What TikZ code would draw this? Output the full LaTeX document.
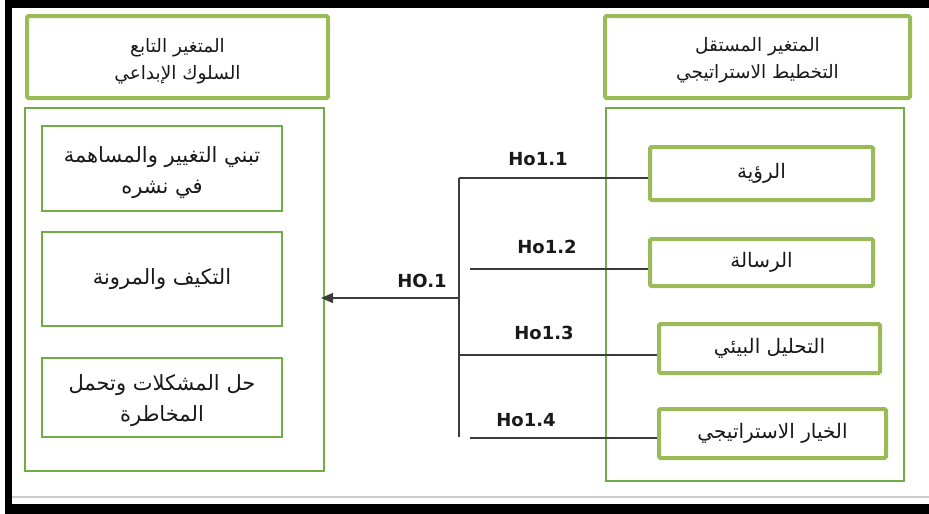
\documentclass[tikz,border=0pt]{standalone}
\usepackage{fontspec}
\setmainfont{DejaVu Sans}
\newfontfamily\arabicfont[Script=Arabic]{DejaVu Sans}
\TeXXeTstate=1
\usetikzlibrary{arrows.meta}
\definecolor{gthick}{RGB}{155,187,89}
\definecolor{gthin}{RGB}{112,173,71}
\definecolor{conn}{RGB}{60,60,60}
\definecolor{txt}{RGB}{25,25,25}
\newcommand\ARtxt[1]{\beginR #1\endR}
\begin{document}
\begin{tikzpicture}[x=1pt,y=-1pt,
  hdrbox/.style={draw=gthick, line width=4pt, rounded corners=1.5pt, inner sep=0pt},
  hdrtxt/.style={inner sep=0pt, align=center, text=txt, font=\arabicfont\fontsize{18.5}{27}\selectfont},
  bigbox/.style={draw=gthin, line width=2pt, inner sep=0pt},
  lbox/.style={draw=gthin, line width=2pt, inner sep=0pt, align=center, text=txt,
     font=\arabicfont\fontsize{21}{32}\selectfont, minimum width=240pt},
  ltxt/.style={inner sep=0pt, align=center, text=txt, font=\arabicfont\fontsize{21}{31}\selectfont},
  rbox/.style={draw=gthick, line width=4pt, rounded corners=1.5pt, inner sep=0pt, align=center, text=txt,
     font=\arabicfont\fontsize{20}{24}\selectfont},
  conline/.style={draw=conn, line width=1.3pt},
  hlabel/.style={font=\bfseries\fontsize{18}{20}\selectfont, text=txt, inner sep=0pt}
]
\useasboundingbox (0,0) rectangle (929,514);
\fill[white] (0,0) rectangle (929,514);
% outer black frame
\fill[black] (5,0) rectangle (929,8);
\fill[black] (5,0) rectangle (12,514);
\fill[black] (5,504) rectangle (929,514);
\draw[black!20, line width=1.5pt] (12,497) -- (929,497);

% headers
\node[hdrbox, minimum width=301pt, minimum height=82pt] (lhdr) at (177.5,57) {};
\node[hdrtxt] (lhdrt) at ([yshift=-4.5pt]lhdr.center)
  {\ARtxt{المتغير التابع}\\\ARtxt{السلوك الإبداعي}};
\node[hdrbox, minimum width=305pt, minimum height=82pt] (rhdr) at (757.5,57) {};
\node[hdrtxt] (rhdrt) at ([yshift=-3pt]rhdr.center)
  {\ARtxt{المتغير المستقل}\\\ARtxt{التخطيط الاستراتيجي}};

% big boxes
\node[bigbox, minimum width=299pt, minimum height=363pt] (lbig) at (174.5,289.5) {};
\node[bigbox, minimum width=298pt, minimum height=373pt] (rbig) at (755,294.5) {};

% left inner boxes
\node[lbox, minimum height=85pt] (l1) at (162,168.5) {};
\node[ltxt] (l1t) at ([yshift=-4.5pt]l1.center)
  {\ARtxt{تبني التغيير والمساهمة}\\\ARtxt{في نشره}};
\node[lbox, minimum height=94pt] (l2) at (162,279) {\ARtxt{التكيف والمرونة}};
\node[lbox, minimum height=79pt] (l3) at (162,397.5) {};
\node[ltxt] (l3t) at ([yshift=-3.5pt]l3.center)
  {\ARtxt{حل المشكلات وتحمل}\\\ARtxt{المخاطرة}};

% right inner boxes
\node[rbox, minimum width=223pt, minimum height=53pt] (r1) at (761.5,173.5) {\ARtxt{الرؤية}};
\node[rbox, minimum width=223pt, minimum height=47pt] (r2) at (761.5,262.5) {\ARtxt{الرسالة}};
\node[rbox, minimum width=221pt, minimum height=49pt] (r3) at (769.5,348.5) {\ARtxt{التحليل البيئي}};
\node[rbox, minimum width=227pt, minimum height=49pt] (r4) at (772.5,433.5) {\ARtxt{الخيار الاستراتيجي}};

% connectors
\coordinate (jtop) at (459,178);
\coordinate (jbot) at (459,437);
\coordinate (s2) at (470,269);
\coordinate (j3) at (459,355);
\coordinate (s4) at (470,438);
\coordinate (j0) at (459,298);
\draw[conline] (jtop) -- (jbot);
\draw[conline] (jtop) -- (jtop -| r1.west);
\draw[conline] (s2) -- (s2 -| r2.west);
\draw[conline] (j3) -- (j3 -| r3.west);
\draw[conline] (s4) -- (s4 -| r4.west);
\draw[conline, -{Triangle[length=12pt,width=10pt]}, shorten >=-4pt] (j0) -- (j0 -| lbig.east);

% labels
\node[hlabel] (h11) at (538,159) {Ho1.1};
\node[hlabel] (h12) at (547,247) {Ho1.2};
\node[hlabel] (h13) at (544,333) {Ho1.3};
\node[hlabel] (h14) at (526,420) {Ho1.4};
\node[hlabel] (h0) at (422,281) {HO.1};
\end{tikzpicture}
\end{document}
